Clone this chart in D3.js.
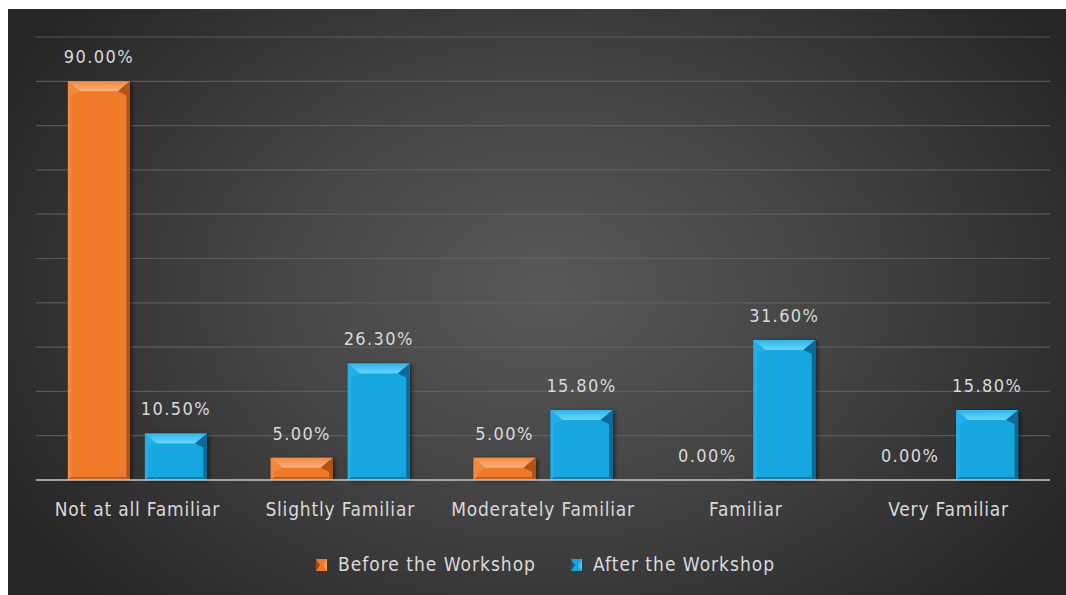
<!DOCTYPE html>
<html>
<head>
<meta charset="utf-8">
<script src="https://cdn.jsdelivr.net/npm/d3@7/dist/d3.min.js"></script>
<style>
  html, body { margin: 0; padding: 0; background: #ffffff; }
  svg { display: block; }
  text { font-family: "DejaVu Sans Condensed", "DejaVu Sans", sans-serif; fill: #d9d9d9; }
</style>
</head>
<body>
<svg id="chart" width="1066" height="595"></svg>
<script>
// Familiarity levels and responses (percent of participants)
const categories = ["Not at all Familiar", "Slightly Familiar", "Moderately Familiar", "Familiar", "Very Familiar"];
const seriesNames = ["Before the Workshop", "After the Workshop"];
const beforeValues = [90.0, 5.0, 5.0, 0.0, 0.0];
const afterValues = [10.5, 26.3, 15.8, 31.6, 15.8];
const yTicks = [0, 10, 20, 30, 40, 50, 60, 70, 80, 90, 100];

const W = 1066, H = 595;
const plot = { left: 36, right: 1050, top: 37, bottom: 480 };

const svg = d3.select("#chart");
const defs = svg.append("defs");

// Dark backdrop with a soft radial light in the middle
const bg = defs.append("radialGradient").attr("id", "bgGrad")
  .attr("gradientUnits", "userSpaceOnUse")
  .attr("cx", 545).attr("cy", 290).attr("r", 620)
  .attr("gradientTransform", "translate(545,290) scale(1,0.72) translate(-545,-290)");
bg.append("stop").attr("offset", "0%").attr("stop-color", "#595959");
bg.append("stop").attr("offset", "45%").attr("stop-color", "#454545");
bg.append("stop").attr("offset", "100%").attr("stop-color", "#262626");

const shadow = defs.append("filter").attr("id", "barShadow")
  .attr("x", "-20%").attr("y", "-10%").attr("width", "150%").attr("height", "130%");
shadow.append("feDropShadow").attr("dx", 2).attr("dy", 1).attr("stdDeviation", 2.2)
  .attr("flood-color", "#000").attr("flood-opacity", 0.55);

svg.append("rect").attr("x", 0).attr("y", 0).attr("width", W).attr("height", H).attr("fill", "#ffffff");
svg.append("rect").attr("x", 8).attr("y", 9).attr("width", W - 8).attr("height", H - 9).attr("fill", "url(#bgGrad)");

const groupWidth = 139;
const x0 = d3.scaleBand().domain(categories).range([plot.left, plot.right]).paddingInner(0).paddingOuter(0);
const x1 = d3.scaleBand().domain(seriesNames).range([0, groupWidth]).paddingInner(0.195);
const y = d3.scaleLinear().domain([0, 100]).range([plot.bottom, plot.top]);

// Horizontal gridlines
svg.append("g").selectAll("line").data(yTicks.filter(t => t > 0)).join("line")
  .attr("x1", plot.left).attr("x2", plot.right)
  .attr("y1", d => y(d)).attr("y2", d => y(d))
  .attr("stroke", "#666666").attr("stroke-width", 1.2).attr("stroke-opacity", 0.75);

const palettes = {
  "Before the Workshop": { base: "#ef7a2c", top1: "#f28a45", top2: "#fbb07a", left: "#f58d45", right: "#a24d14", bottom: "#b8581a" },
  "After the Workshop": { base: "#17a6e0", top1: "#2ab6ec", top2: "#6ad6f8", left: "#2ab2ea", right: "#0a5f88", bottom: "#0c739f" }
};

Object.entries(palettes).forEach(([name, p], i) => {
  const g = defs.append("linearGradient").attr("id", "top" + i).attr("x1", 0).attr("y1", 0).attr("x2", 0).attr("y2", 1);
  g.append("stop").attr("offset", "0%").attr("stop-color", p.top1);
  g.append("stop").attr("offset", "100%").attr("stop-color", p.top2);
});

// Bevelled bar drawn as a face plus four edge facets
function bevelBar(sel, bx, by, bw, bh, p, gi) {
  const tb = Math.min(10, bh * 0.45), sb = Math.min(3.5, bw * 0.1), bb = Math.min(3, bh * 0.2);
  const L = bx, R = bx + bw, T = by, B = by + bh;
  const g = sel.append("g").attr("filter", "url(#barShadow)");
  g.append("rect").attr("x", L).attr("y", T).attr("width", bw).attr("height", bh).attr("fill", p.base);
  const poly = pts => pts.map(q => q.join(",")).join(" ");
  g.append("polygon").attr("points", poly([[L, T], [R, T], [R - Math.max(sb, 12), T + tb], [L + Math.max(sb, 12), T + tb]]))
    .attr("fill", `url(#top${gi})`);
  g.append("polygon").attr("points", poly([[L, T], [L + Math.max(sb, 12), T + tb], [L + sb, T + tb + 4], [L + sb, B - bb], [L, B]]))
    .attr("fill", p.left).attr("opacity", 0.7);
  g.append("polygon").attr("points", poly([[R, T], [R, B], [R - sb, B - bb], [R - sb, T + tb + 4], [R - Math.max(sb, 12), T + tb]]))
    .attr("fill", p.right).attr("opacity", 0.85);
  g.append("polygon").attr("points", poly([[L, B], [R, B], [R - sb, B - bb], [L + sb, B - bb]]))
    .attr("fill", p.bottom).attr("opacity", 0.8);
}

const rows = categories.map((c, i) => ({ cat: c, vals: [beforeValues[i], afterValues[i]] }));
const barsG = svg.append("g");
rows.forEach(r => {
  const groupLeft = x0(r.cat) + (x0.bandwidth() - groupWidth) / 2;
  r.vals.forEach((v, si) => {
    const name = seriesNames[si];
    const bx = groupLeft + x1(name), bw = x1.bandwidth();
    if (v > 0) bevelBar(barsG, bx, y(v), bw, y(0) - y(v), palettes[name], si);
    barsG.append("text")
      .attr("x", bx + bw / 2).attr("y", y(v) - 18)
      .attr("text-anchor", "middle").attr("font-size", 18)
      .attr("letter-spacing", 1.4)
      .text(v.toFixed(2) + "%");
  });
});

// Baseline
svg.append("line").attr("x1", plot.left).attr("x2", plot.right)
  .attr("y1", y(0)).attr("y2", y(0)).attr("stroke", "#c8c8c8").attr("stroke-width", 1.6);

// Category axis labels
const xAxis = d3.axisBottom(x0).tickSize(0).tickPadding(0);
const ax = svg.append("g").attr("transform", `translate(0,${y(0)})`).call(xAxis);
ax.select(".domain").remove();
ax.selectAll("text").attr("dy", 0).attr("y", 36).attr("font-size", 19)
  .attr("letter-spacing", 0.8)
  .style("font-family", '"DejaVu Sans Condensed", "DejaVu Sans", sans-serif').attr("fill", "#d9d9d9");

// Legend
const legendItems = [
  { name: seriesNames[0], x: 316, idx: 0 },
  { name: seriesNames[1], x: 571, idx: 1 }
];
const lg = svg.append("g");
legendItems.forEach(it => {
  const p = palettes[it.name];
  const mx = it.x, my = 559, mw = 11, mh = 12;
  lg.append("rect").attr("x", mx).attr("y", my).attr("width", mw).attr("height", mh).attr("fill", p.base);
  lg.append("polygon").attr("points", `${mx},${my} ${mx + 4},${my + mh / 2} ${mx},${my + mh}`).attr("fill", p.right);
  lg.append("polygon").attr("points", `${mx + mw},${my} ${mx + mw - 4},${my + mh / 2} ${mx + mw},${my + mh}`).attr("fill", p.top2).attr("opacity", 0.6);
  lg.append("text").attr("x", mx + 22).attr("y", my + 12).attr("font-size", 19)
    .attr("letter-spacing", 1.0).text(it.name);
});
</script>
</body>
</html>
